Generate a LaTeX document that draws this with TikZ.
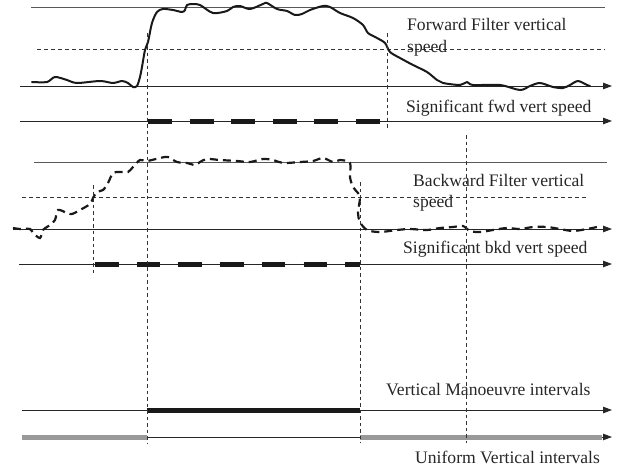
\documentclass[tikz,border=0pt]{standalone}
\usepackage{fontspec}
\setmainfont{Liberation Serif}
\usetikzlibrary{arrows.meta}
\begin{document}
\begin{tikzpicture}[x=1pt,y=-1pt,
  lbl/.style={anchor=base west,inner sep=0pt,font=\fontsize{17.6}{21}\selectfont,text=black!85,align=left},
  refline/.style={draw=black!65,line width=0.9pt},
  thresh/.style={draw=black!80,line width=0.7pt,dash pattern=on 4pt off 3pt},
  axis/.style={draw=black!85,line width=0.9pt,-{Triangle[length=9pt,width=6.5pt]}},
  marker/.style={draw=black!80,line width=0.8pt,dash pattern=on 3.5pt off 3pt},
  curve/.style={draw=black!90,line width=2pt,line join=round,line cap=round},
  bdash/.style={draw=black!90,line width=2.2pt,dash pattern=on 8pt off 5pt},
  sigbar/.style={draw=black!90,line width=5pt},
  unibar/.style={draw=black!40,line width=5pt}]
\useasboundingbox (0,0) rectangle (624,471);

% ---------- forward filter ----------
\draw[refline] (31,7) -- (605,7);
\draw[thresh] (37,49) -- (605,49);
\coordinate (fa0) at (20,86);   \coordinate (fa1) at (612,86);
\coordinate (sa0) at (20,121);  \coordinate (sa1) at (612,121);
\draw[axis] (fa0) -- (fa1);
\draw[axis] (sa0) -- (sa1);
\draw[curve] plot[smooth,tension=0.5] coordinates {
  (32,82) (47,82) (55,77) (67,80) (77,83) (100,81) (113,83) (122,81) (128,83)
  (133,87) (137,86) (140,77) (142,67) (145,50) (148,42) (152,23) (157,12)
  (163,9) (173,10) (182,12) (185,10) (187,5) (193,4) (200,5) (213,13) (227,11)
  (233,7) (240,6) (250,9) (263,4) (267,3) (277,9) (287,11) (295,15) (302,14)
  (310,10) (323,6) (330,7) (340,13) (353,18) (363,25) (368,33) (377,38)
  (385,43) (390,52) (400,58) (413,65) (427,72) (437,80) (443,83) (460,85)
  (467,82) (473,85) (500,85) (520,90) (530,86) (540,83) (553,87) (563,88)
  (570,85) (578,81) (587,85) (590,86)};
\draw[sigbar,dash pattern=on 24pt off 17.6pt] (148,121) -- (380,121);
\node[lbl] (fwdlbl) at (407,52) {Forward Filter vertical\\speed};
\node[lbl] (fwdsig) at (406,112) {Significant fwd vert speed};

% ---------- backward filter ----------
\draw[refline] (34,162) -- (607,162);
\draw[thresh] (22,197) -- (588,197);
\coordinate (ba0) at (13,229);  \coordinate (ba1) at (612,229);
\coordinate (sb0) at (19,264);  \coordinate (sb1) at (612,264);
\draw[axis] (ba0) -- (ba1);
\draw[axis] (sb0) -- (sb1);
\draw[bdash] plot[smooth,tension=0.5] coordinates {
  (13,228) (20,229) (30,229) (33,233) (40,238) (43,230) (50,225) (55,220)
  (58,210) (67,213) (72,214) (80,210) (90,204) (93,198) (97,192) (103,190)
  (108,183) (113,173) (120,172) (128,172) (133,167) (140,160) (147,161)
  (160,158) (168,157) (177,162) (187,163) (195,165) (200,162) (207,159)
  (220,160) (237,161) (250,162) (263,159) (273,160) (283,163) (300,162)
  (313,161) (323,158) (333,162) (340,160) (350,163) (350,177) (353,187)
  (358,193) (360,198) (358,213) (360,222) (367,230) (380,232) (397,230)
  (410,229) (427,230) (440,228) (453,227) (463,226) (470,231) (480,232)
  (493,230) (507,228) (520,229) (533,227) (547,227) (560,229) (573,231)
  (587,229) (597,227)};
\draw[sigbar,dash pattern=on 23.5pt off 18.2pt] (95,264) -- (360,264);
\node[lbl] (bkdlbl) at (413,207) {Backward Filter vertical\\speed};
\node[lbl] (bkdsig) at (403,253) {Significant bkd vert speed};

% ---------- resulting intervals ----------
\coordinate (ma0) at (22,410);  \coordinate (ma1) at (612,410);
\coordinate (ua0) at (22,437);  \coordinate (ua1) at (612,437);
\draw[axis] (ma0) -- (ma1);
\draw[sigbar] (147,410) -- (360,410);
\draw[axis] (ua0) -- (ua1);
\draw[unibar] (22,437) -- (147,437);
\draw[unibar] (360,437) -- (602,437);
\node[lbl] (manlbl) at (386,395) {Vertical Manoeuvre intervals};
\node[lbl] (unilbl) at (415,463) {Uniform Vertical intervals};

% ---------- crossing markers ----------
\draw[marker] (147,33) -- (147,443);
\draw[marker] (387,33) -- (387,130);
\draw[marker] (93,185) -- (93,273);
\draw[marker] (360,182) -- (360,443);
\draw[marker] (466,135) -- (466,443);
\end{tikzpicture}
\end{document}
